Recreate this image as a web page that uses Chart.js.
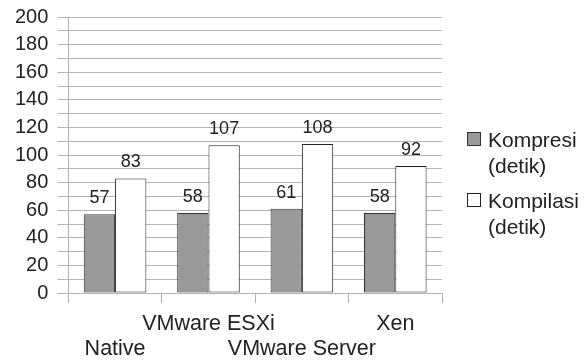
<!DOCTYPE html>
<html lang="id">
<head>
    <meta charset="UTF-8">
    <script src="https://cdn.jsdelivr.net/npm/chart.js"></script>
    <title>Kompresi dan Kompilasi</title>
    <style>
        html, body { margin: 0; padding: 0; background: #ffffff; }
        #wadah { width: 586px; height: 360px; }
    </style>
</head>
<body>

    <div id="wadah">
        <canvas id="grafikWaktu"></canvas>
    </div>

<script>

    // data waktu (detik) per platform
    var platform = ['Native', 'VMware ESXi', 'VMware Server', 'Xen'];
    var kompresi = [57, 58, 61, 58];
    var kompilasi = [83, 107, 108, 92];
    var namaSeri = [['Kompresi', '(detik)'], ['Kompilasi', '(detik)']];

    var yMin = 0;
    var yMax = 200;
    var yLangkahLabel = 20;
    var yLangkahGaris = 10;

    var huruf = '"Liberation Sans", Arial, sans-serif';
    var warnaGaris = '#b3b3b3';
    var warnaTeks = '#222222';

    // angka di atas tiap batang
    const labelNilai = {
        id: 'labelNilai',
        afterDatasetsDraw(chart) {
            const ctx = chart.ctx;
            ctx.save();
            ctx.font = '18px ' + huruf;
            ctx.fillStyle = warnaTeks;
            ctx.textAlign = 'center';
            ctx.textBaseline = 'alphabetic';
            chart.data.datasets.forEach(function (ds, i) {
                chart.getDatasetMeta(i).data.forEach(function (bar, j) {
                    ctx.fillText(ds.data[j], bar.x, bar.y - 11);
                });
            });
            ctx.restore();
        }
    };

    // legenda di sebelah kanan, dua baris per seri
    const legendaKanan = {
        id: 'legendaKanan',
        afterDraw(chart) {
            const ctx = chart.ctx;
            const x = chart.chartArea.right + 25;
            ctx.save();
            ctx.font = '21px ' + huruf;
            ctx.textBaseline = 'alphabetic';
            ctx.textAlign = 'left';
            chart.data.datasets.forEach(function (ds, i) {
                const y = 132 + i * 61;
                ctx.fillStyle = ds.backgroundColor;
                ctx.fillRect(x + 0.5, y + 0.5, 13, 13);
                ctx.strokeStyle = ds.borderColor;
                ctx.lineWidth = 1;
                ctx.strokeRect(x + 0.5, y + 0.5, 13, 13);
                ctx.fillStyle = warnaTeks;
                ds.label.forEach(function (baris, k) {
                    ctx.fillText(baris, x + 21, y + 15 + k * 26);
                });
            });
            ctx.restore();
        }
    };

    const ctx = document.getElementById('grafikWaktu').getContext('2d');
    const grafik = new Chart(ctx, {
        type: 'bar',
        data: {
            labels: platform,
            datasets: [{
                label: namaSeri[0],
                data: kompresi,
                backgroundColor: '#999999',
                borderColor: '#333333',
                borderWidth: 1,
                borderSkipped: false
            }, {
                label: namaSeri[1],
                data: kompilasi,
                backgroundColor: '#ffffff',
                borderColor: '#222222',
                borderWidth: 1,
                borderSkipped: false
            }]
        },
        options: {
            responsive: true,
            maintainAspectRatio: false,
            animation: false,
            datasets: {
                bar: {
                    categoryPercentage: 0.67,
                    barPercentage: 1.0
                }
            },
            layout: {
                padding: { left: 6, right: 144, top: 0, bottom: 0 }
            },
            plugins: {
                legend: { display: false },
                tooltip: { enabled: false }
            },
            scales: {
                x: {
                    offset: true,
                    // tinggi sumbu x tetap supaya dua baris label muat
                    afterFit: function (axis) {
                        axis.height = 67;
                    },
                    grid: {
                        offset: true,
                        drawOnChartArea: true,
                        color: function (c) {
                            return (c.index === 0 || c.index === platform.length) ? warnaGaris : 'rgba(0,0,0,0)';
                        },
                        tickColor: warnaGaris,
                        tickLength: 10
                    },
                    border: { display: true, color: warnaGaris },
                    ticks: {
                        autoSkip: false,
                        maxRotation: 0,
                        minRotation: 0,
                        padding: 9,
                        color: warnaTeks,
                        font: { family: huruf, size: 21.5, lineHeight: 1.15 },
                        // label berselang: ganjil di baris atas, genap di baris bawah
                        callback: function (v, i) {
                            const teks = platform[i];
                            return i % 2 === 1 ? [teks, ''] : ['', teks];
                        }
                    }
                },
                y: {
                    min: yMin,
                    max: yMax,
                    // garis bantu tiap 10, label hanya tiap 20
                    afterBuildTicks: function (axis) {
                        const daftar = [];
                        for (let v = yMin; v <= yMax; v += yLangkahGaris) {
                            daftar.push({ value: v });
                        }
                        axis.ticks = daftar;
                    },
                    grid: {
                        color: warnaGaris,
                        tickColor: warnaGaris,
                        tickLength: 11
                    },
                    border: { display: true, color: warnaGaris },
                    ticks: {
                        autoSkip: false,
                        padding: 9,
                        color: warnaTeks,
                        font: { family: huruf, size: 20, lineHeight: 0.8 },
                        callback: function (v) {
                            return v % yLangkahLabel === 0 ? v : '';
                        }
                    }
                }
            }
        },
        plugins: [labelNilai, legendaKanan]
    });

</script>

</body>
</html>
